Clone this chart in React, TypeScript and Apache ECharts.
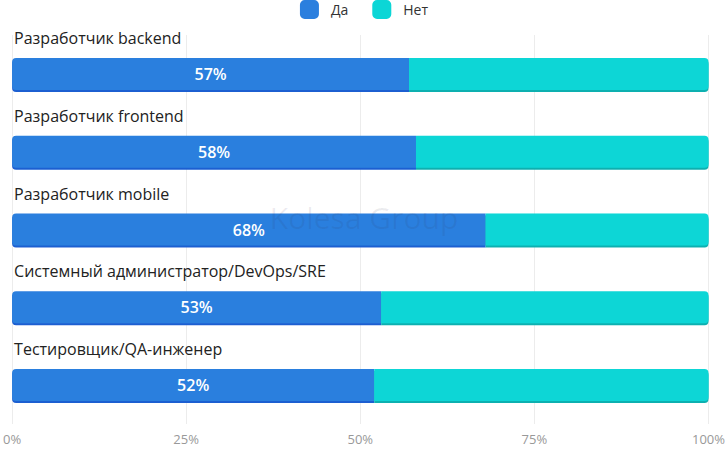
import React, { useEffect, useRef } from "react";
import * as echarts from "echarts";

const categories = [
  "Разработчик backend",
  "Разработчик frontend",
  "Разработчик mobile",
  "Системный администратор/DevOps/SRE",
  "Тестировщик/QA-инженер",
];
const yesValues = [57, 58, 68, 53, 52];
const noValues = [43, 42, 32, 47, 48];
const xTicks = [0, 25, 50, 75, 100];

export default function App() {
  const ref = useRef<HTMLDivElement>(null);
  useEffect(() => {
    if (!ref.current) return;
    document.body.style.margin = "0";
    const chart = echarts.init(ref.current, null, { renderer: "svg" });
    chart.setOption({
      animation: false,
      textStyle: { fontFamily: "Open Sans" },
      legend: {
        top: 0,
        left: "center",
        padding: 0,
        itemWidth: 19,
        itemHeight: 19,
        itemGap: 24,
        icon: "roundRect",
        textStyle: {
          fontSize: 14,
          color: "#333",
          fontFamily: "Open Sans",
          padding: [0, 0, 0, 7],
        },
        data: ["Да", "Нет"],
      },
      graphic: [
        {
          type: "text",
          left: "center",
          top: 202,
          silent: true,
          z: 100,
          style: {
            text: "Kolesa Group",
            fontSize: 30,
            fontFamily: "Open Sans",
            fill: "rgba(50,50,80,0.09)",
          },
        },
      ],
      grid: { left: 10, right: 18, top: 35, bottom: 26, containLabel: false },
      xAxis: {
        type: "value",
        min: 0,
        max: 100,
        interval: 25,
        axisLine: { show: false },
        axisTick: { show: false },
        splitLine: { show: true, lineStyle: { color: "#ececec" } },
        axisLabel: {
          color: "#999",
          fontSize: 13,
          fontFamily: "Open Sans",
          margin: 8,
          formatter: (v: number) => (xTicks.includes(v) ? v + "%" : ""),
        },
      },
      yAxis: {
        type: "category",
        inverse: true,
        data: categories,
        axisLine: { show: false },
        axisTick: { show: false },
        axisLabel: {
          inside: true,
          margin: 2,
          align: "left",
          verticalAlign: "bottom",
          padding: [0, 0, 28, 0],
          color: "#222",
          fontSize: 16,
          fontFamily: "Open Sans",
        },
        z: 10,
      },
      series: [
        {
          name: "Да",
          type: "bar",
          stack: "total",
          barWidth: 32,
          data: yesValues,
          itemStyle: {
            color: "#2b7fde",
            borderRadius: [4, 0, 0, 4],
            shadowColor: "#1d5fd1",
            shadowOffsetY: 2,
            shadowBlur: 0,
          },
          label: {
            show: true,
            position: "inside",
            color: "#fff",
            fontSize: 16,
            fontWeight: 600,
            fontFamily: "Open Sans",
            formatter: "{c}%",
          },
        },
        {
          name: "Нет",
          type: "bar",
          stack: "total",
          barWidth: 32,
          data: noValues,
          itemStyle: {
            color: "#0cd6d6",
            borderRadius: [0, 4, 4, 0],
            shadowColor: "#0bb0b0",
            shadowOffsetY: 2,
            shadowBlur: 0,
          },
          label: { show: false },
        },
      ],
    });
    return () => chart.dispose();
  }, []);
  return <div ref={ref} style={{ width: 728, height: 450 }} />;
}
